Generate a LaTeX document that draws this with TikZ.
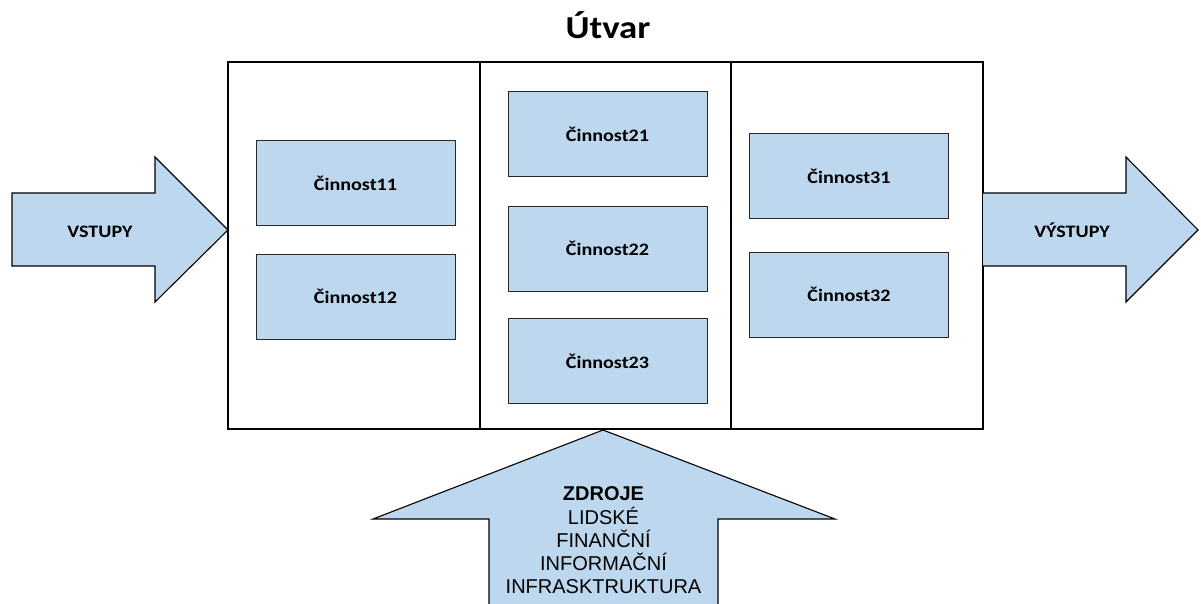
\documentclass[tikz,border=0pt]{standalone}
\usepackage{fontspec}
\setmainfont{Carlito}[FakeStretch=1.15]
\newfontfamily\arialfont{Liberation Sans}
\definecolor{boxblue}{HTML}{BDD7EE}
\begin{document}
\begin{tikzpicture}[x=1pt,y=-1pt,
  stage/.style={draw=black,line width=1.3pt},
  task/.style={draw=black!85,line width=1pt,fill=boxblue,minimum width=199pt,minimum height=85pt,
    font=\fontsize{17.5}{20}\selectfont\bfseries,inner sep=0pt},
  arrowlabel/.style={font=\fontsize{17.5}{20}\selectfont\bfseries,anchor=base,inner sep=0pt},
  bigarrow/.style={draw=black,line width=1.1pt,fill=boxblue,line join=miter}]
\useasboundingbox (0,0) rectangle (1201,604);
% title
\node[font=\fontsize{32}{36}\selectfont\bfseries,anchor=base,inner sep=0pt] (title) at (608,39) {Útvar};
% three stages of the unit
\draw[stage] (228,62) rectangle (480,429);
\draw[stage] (480,62) rectangle (731,429);
\draw[stage] (731,62) rectangle (983,429);
% activities
\node[task] (c11) at (355.5,183) {Činnost11};
\node[task] (c12) at (355.5,296.5) {Činnost12};
\node[task] (c21) at (607.5,134.5) {Činnost21};
\node[task] (c22) at (607.5,248.5) {Činnost22};
\node[task] (c23) at (607.5,361) {Činnost23};
\node[task] (c31) at (849,176) {Činnost31};
\node[task] (c32) at (849,294.5) {Činnost32};
% inputs
\draw[bigarrow] (12,193) -- (155,193) -- (155,157) -- (228,230) -- (155,302) -- (155,266) -- (12,266) -- cycle;
\node[arrowlabel] (in) at (100,237) {VSTUPY};
% outputs
\draw[bigarrow] (983,193) -- (1126,193) -- (1126,157) -- (1198,230) -- (1126,302) -- (1126,266) -- (983,266);
\node[arrowlabel] (out) at (1072,237) {VÝSTUPY};
% resources
\draw[bigarrow] (489,606) -- (489,519) -- (373,519) -- (603,430) -- (835,519) -- (718,519) -- (718,606);
\node[font=\arialfont\fontsize{20}{23.25}\selectfont,align=center,anchor=north,inner sep=0pt] (res) at (603.5,486.7)
  {\textbf{ZDROJE}\\LIDSKÉ\\FINANČNÍ\\INFORMAČNÍ\\INFRASKTRUKTURA};
\end{tikzpicture}
\end{document}
